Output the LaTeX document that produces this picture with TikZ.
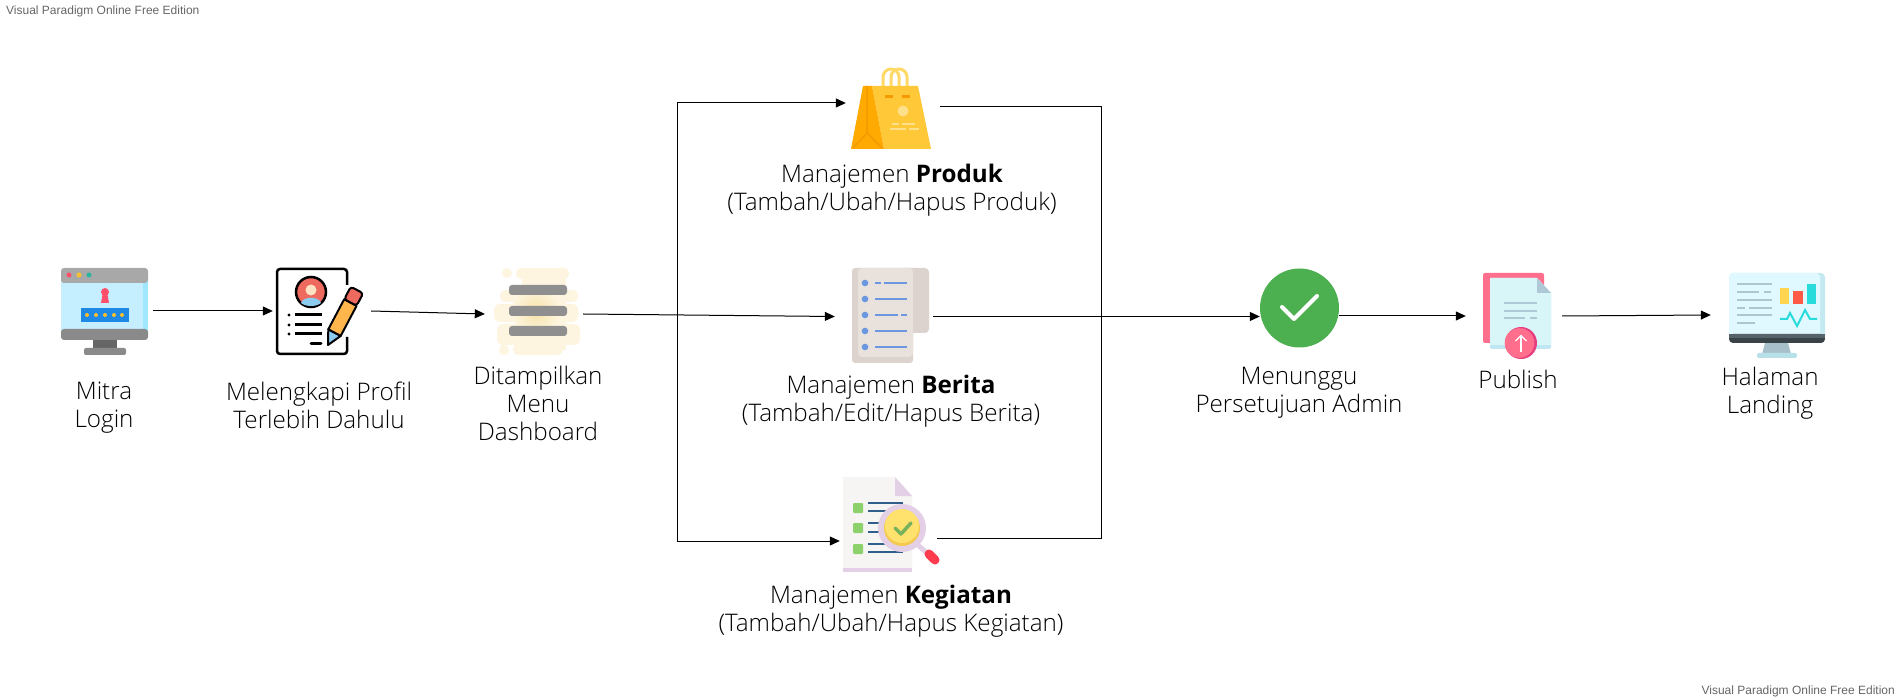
\documentclass[tikz,border=0pt]{standalone}
\usepackage{fontspec}
\setmainfont{Open Sans Light}[BoldFont={Open Sans Bold}]
\setsansfont{Liberation Sans}
\usetikzlibrary{arrows.meta}
\definecolor{lgrey}{HTML}{A8A8A8}
\definecolor{lscreen}{HTML}{C5EEFF}
\definecolor{lstrip}{HTML}{9FE6FF}
\definecolor{lbase}{HTML}{8A8A8A}
\definecolor{lneck}{HTML}{666666}
\definecolor{lred}{HTML}{FF4F6A}
\definecolor{lyellow}{HTML}{FFC030}
\definecolor{lteal}{HTML}{2BB5A0}
\definecolor{lblue}{HTML}{1E88E5}
\definecolor{pred}{HTML}{EE6A5F}
\definecolor{pskin}{HTML}{FFE2C4}
\definecolor{pshirt}{HTML}{8CCBF0}
\definecolor{porange}{HTML}{FFB74D}
\definecolor{dcream}{HTML}{FDF5DF}
\definecolor{dglow}{HTML}{F6E2A8}
\definecolor{dbar}{HTML}{8F8F8F}
\definecolor{bfront}{HTML}{FFC839}
\definecolor{bside}{HTML}{FFAA00}
\definecolor{bline}{HTML}{F59A00}
\definecolor{bhandle}{HTML}{FFD966}
\definecolor{bpale}{HTML}{FFE08A}
\definecolor{npaper}{HTML}{E9E1DC}
\definecolor{nedge}{HTML}{DCD3CE}
\definecolor{nblue}{HTML}{6B96E0}
\definecolor{kpaper}{HTML}{F6F5F4}
\definecolor{kmauve}{HTML}{E3CFE6}
\definecolor{kgreen}{HTML}{8DD16D}
\definecolor{kdark}{HTML}{2F5F8A}
\definecolor{kyellow}{HTML}{FFE26E}
\definecolor{kgold}{HTML}{F5C94F}
\definecolor{kred}{HTML}{FF3B4E}
\definecolor{okgreen}{HTML}{4CAF50}
\definecolor{upink}{HTML}{FF6F8D}
\definecolor{upaper}{HTML}{D8F6F8}
\definecolor{ufold}{HTML}{AEC8D6}
\definecolor{ustrip}{HTML}{BFE6F2}
\definecolor{umagenta}{HTML}{E63F80}
\definecolor{sscreen}{HTML}{E0F8FF}
\definecolor{sstrip}{HTML}{C5E9F0}
\definecolor{sdark}{HTML}{3A4347}
\definecolor{smid}{HTML}{56636A}
\definecolor{sneck}{HTML}{A8C0CA}
\definecolor{sbase}{HTML}{B8E0E8}
\definecolor{sline}{HTML}{B0C4CC}
\definecolor{syellow}{HTML}{FFD54F}
\definecolor{sred}{HTML}{FF5A45}
\definecolor{steal}{HTML}{2ADBDB}
\tikzset{
  iconbox/.style={inner sep=0pt,minimum height=80pt},
  flow/.style={draw=black,line width=1pt,-{Triangle[length=10pt,width=9pt]}},
  wire/.style={draw=black,line width=1pt},
  caption/.style={align=center,inner sep=0pt,text=black,font=\fontsize{24.2}{28}\selectfont},
  watermark/.style={font=\sffamily\fontsize{12}{14}\selectfont,text=black!60,inner sep=0pt}
}
\begin{document}
\begin{tikzpicture}[x=1pt,y=-1pt]
\useasboundingbox (0,0) rectangle (1900,700);
\fill[white] (0,0) rectangle (1900,700);
\node[watermark,anchor=west] (markatas) at (6,11) {Visual Paradigm Online Free Edition};
\node[watermark,anchor=east] (markbawah) at (1895,691) {Visual Paradigm Online Free Edition};

\node[iconbox,minimum width=98pt] (login) at (104,311) {};
\node[iconbox,minimum width=98pt] (profil) at (322,311) {};
\node[iconbox,minimum width=98pt] (dashboard) at (534,314) {};
\node[iconbox,minimum width=94pt] (produk) at (893,105) {};
\node[iconbox,minimum width=98pt] (berita) at (884,316.5) {};
\node[iconbox,minimum width=97pt] (kegiatan) at (888.5,540) {};
\node[circle,fill=okgreen,inner sep=0pt,minimum size=79pt] (cek) at (1299.5,308) {};
\node[iconbox,minimum width=96pt] (publish) at (1514,316) {};
\node[iconbox,minimum width=132pt] (landing) at (1777,315) {};
\coordinate (jkiri) at (677,314.5);
\coordinate (jkanan) at (1101.5,316.5);

\draw[flow] (login.east) -- (profil.west);
\draw[flow] (profil.east) -- (dashboard.west);
\draw[flow] (dashboard.east) -- (berita.west);
\draw[flow] (jkiri) |- ([yshift=2pt]produk.west);
\draw[flow] (jkiri) |- ([yshift=-1pt]kegiatan.west);
\draw[wire] ([yshift=-2pt]produk.east) -| (jkanan);
\draw[wire] (jkanan) |- ([yshift=2pt]kegiatan.east);
\draw[flow] (berita.east) -- (cek.west |- berita.east);
\draw[flow] (cek.east |- publish.west) -- (publish.west);
\draw[flow] (publish.east) -- (landing.west);

\fill[lscreen] (61,280) rectangle (148,332);
\fill[lstrip] (143,280) rectangle (148,332);
\fill[lgrey,rounded corners=3pt] (61,283) -- (61,268) -- (148,268) -- (148,283) -- cycle;
\fill[lbase,rounded corners=3pt] (61,329) -- (61,340) -- (148,340) -- (148,329) -- cycle;
\fill[lneck] (93,340) rectangle (117,348);
\fill[lbase,rounded corners=2pt] (84,355) -- (84,348) -- (126,348) -- (126,355) -- cycle;
\fill[lred] (69,275) circle (2.5);
\fill[lyellow] (79,275) circle (2.5);
\fill[lteal] (89,275) circle (2.5);
\fill[lred] (105,292) circle (4);
\fill[lred] (103,292) -- (107,292) -- (109,303) -- (101,303) -- cycle;
\fill[lblue] (81,308) rectangle (129,322);
\foreach \x in {87,96,105,114,122}
  \fill[lyellow] (\x,315) circle (2);

\draw[line width=2.5pt,rounded corners=3pt] (347,285) -- (347,269) -- (277,269) -- (277,354) -- (347,354) -- (347,337);
\draw[line width=2.5pt,fill=pred] (311,292) circle (15);
\fill[pskin] (311,290) circle (5.5);
\fill[pshirt] (301,303) .. controls (303,296) and (319,296) .. (321,303) .. controls (316,307) and (306,307) .. (301,303);
\foreach \y in {315,325,334} {
  \fill (289,\y) circle (1.7);
  \draw[line width=3pt] (295,\y) -- (322,\y);
}
\draw[line width=3pt,line cap=round] (311,344) -- (321,344);
\draw[line width=2pt,fill=pshirt,line join=round] (328,345) -- (328.3,329.3) -- (340.7,335.9) -- cycle;
\draw[line width=2pt,fill=porange,line join=round] (328.3,329.3) -- (344.2,299.2) -- (356.6,305.8) -- (340.7,335.9) -- cycle;
\draw[line width=2pt,fill=pred,rounded corners=3pt] (344.2,299.2) -- (350.8,286.7) -- (363.2,293.3) -- (356.6,305.8) -- cycle;

\fill[dcream] (507,273) circle (5);
\fill[dcream] (504,350) circle (5);
\fill[dcream,rounded corners=5pt] (516,268) rectangle (569,279);
\fill[dcream] (522,275) rectangle (566,350);
\fill[dcream,rounded corners=5pt] (500,290) rectangle (578,302);
\fill[dcream,rounded corners=6pt] (494,304) rectangle (578,322);
\fill[dcream,rounded corners=6pt] (497,324) rectangle (580,345);
\fill[dcream,rounded corners=5pt] (513,344) rectangle (563,355);
\shade[inner color=dglow,outer color=dcream] (536,311) circle (24);
\foreach \y in {290,311,331}
  \fill[dbar,rounded corners=3pt] (509,\y-5) rectangle (567,\y+5);

\draw[bhandle,line width=3pt,rounded corners=8pt] (883,95) -- (883,69) -- (899,69) -- (899,95);
\draw[bhandle,line width=3pt,rounded corners=8pt] (891,95) -- (891,69) -- (907,69) -- (907,95);
\fill[bfront] (872,86) -- (918,86) -- (931,149) -- (884,149) -- cycle;
\fill[bside] (863,86) -- (872,86) -- (884,149) -- (851,149) -- cycle;
\draw[bline,line width=1.5pt] (867,86) -- (867,133) -- (853,148);
\draw[bline,line width=1.5pt] (867,133) -- (882,148);
\fill[bline] (885,95) rectangle (893,98);
\fill[bline] (902,95) rectangle (910,98);
\fill[bpale] (903,111) circle (5.5);
\draw[bpale,line width=1.5pt] (892,124) -- (899,124);
\draw[bpale,line width=1.5pt] (902,124) -- (915,124);
\draw[bpale,line width=1.5pt] (890,129) -- (906,129);
\draw[bpale,line width=1.5pt] (909,129) -- (919,129);

\fill[nedge,rounded corners=4pt] (900,268) rectangle (929,333);
\fill[nedge,rounded corners=3pt] (852,268) rectangle (913,363);
\fill[npaper,rounded corners=4pt] (858,268) -- (913,268) -- (913,357) -- (858,357) -- cycle;
\foreach \y in {283,299,315,331,347}
  \fill[nblue] (865,\y) circle (3.3);
\draw[nblue,line width=2pt] (875,283) -- (881,283);
\draw[nblue,line width=2pt] (884,283) -- (907,283);
\draw[nblue,line width=2pt] (875,299) -- (907,299);
\draw[nblue,line width=2pt] (875,315) -- (898,315);
\draw[nblue,line width=2pt] (901,315) -- (907,315);
\draw[nblue,line width=2pt] (875,331) -- (907,331);
\draw[nblue,line width=2pt] (875,347) -- (907,347);

\fill[kpaper] (843,477) -- (895,477) -- (912,496) -- (912,572) -- (843,572) -- cycle;
\fill[kmauve] (843,568) rectangle (912,572);
\fill[kmauve] (895,477) -- (912,496) -- (895,496) -- cycle;
\foreach \y in {503,523,544}
  \fill[kgreen,rounded corners=1pt] (853,\y) rectangle (863,\y+10);
\foreach \y in {503,511,523,532,544,552}
  \draw[kdark,line width=2pt] (868,\y) -- (903,\y);
\draw[kmauve,line width=5pt] (918,545) -- (928,554);
\draw[kred,line width=9pt,line cap=round] (929,554) -- (935,560);
\fill[kmauve] (902,528) circle (24);
\fill[kgold] (902,528) circle (18);
\fill[kyellow] (902,526) circle (17);
\draw[kgreen!85!black,line width=3.5pt,line cap=round,line join=round] (895,528) -- (901,534) -- (911,523);

\draw[white,line width=4pt,line cap=round,line join=round] (1282,307) -- (1294,319) -- (1317,296);

\fill[upink,rounded corners=2pt] (1483,273) rectangle (1544,343);
\fill[ustrip,rounded corners=2pt] (1490,278) -- (1537,278) -- (1551,293) -- (1551,349) -- (1490,349) -- cycle;
\fill[upaper] (1490,278) -- (1537,278) -- (1551,293) -- (1551,345) -- (1490,345) -- cycle;
\fill[ufold] (1537,278) -- (1551,293) -- (1537,293) -- cycle;
\draw[ufold,line width=2pt] (1504,303) -- (1537,303);
\draw[ufold,line width=2pt] (1504,311) -- (1537,311);
\draw[ufold,line width=2pt] (1504,318) -- (1525,318);
\draw[ufold,line width=2pt] (1530,318) -- (1537,318);
\fill[umagenta] (1521,343) circle (16);
\fill[upink] (1519.5,343) circle (14.8);
\draw[white,line width=1.3pt] (1521,352) -- (1521,336);
\draw[white,line width=1.3pt] (1515.5,341) -- (1521,335.5) -- (1526.5,341);

\fill[sneck] (1765,343) -- (1788,343) -- (1791,354) -- (1762,354) -- cycle;
\fill[sbase,rounded corners=2pt] (1757,353) rectangle (1797,358);
\fill[sstrip,rounded corners=4pt] (1729,273) rectangle (1825,340);
\fill[sscreen,rounded corners=4pt] (1729,273) -- (1820,273) -- (1820,340) -- (1729,340) -- cycle;
\fill[sdark,rounded corners=4pt] (1729,334) -- (1825,334) -- (1825,343) -- (1729,343) -- cycle;
\fill[smid] (1729,334) rectangle (1825,338);
\draw[sline,line width=2.5pt] (1737,284) -- (1772,284);
\draw[sline,line width=2.5pt] (1737,292) -- (1759,292);
\draw[sline,line width=2.5pt] (1764,292) -- (1771,292);
\draw[sline,line width=2.5pt] (1737,300) -- (1772,300);
\draw[sline,line width=2.5pt] (1737,308) -- (1745,308);
\draw[sline,line width=2.5pt] (1749,308) -- (1772,308);
\draw[sline,line width=2.5pt] (1737,315) -- (1772,315);
\draw[sline,line width=2.5pt] (1737,323) -- (1755,323);
\fill[syellow] (1780,288) rectangle (1789,304);
\fill[sred] (1793,291) rectangle (1803,304);
\fill[steal] (1807,284) rectangle (1816,304);
\draw[steal,line width=2pt] (1780,319) -- (1787,319) -- (1790,313) -- (1797,326) -- (1805,310) -- (1810,319) -- (1817,319);

\node[caption] (tlogin) at (104,408) {Mitra\\Login};
\node[caption] (tprofil) at (319,405.5) {Melengkapi Profil\\Terlebih Dahulu};
\node[caption] (tdashboard) at (538,403.5) {Ditampilkan\\Menu\\Dashboard};
\node[caption] (tproduk) at (892,190.5) {Manajemen \textbf{Produk}\\(Tambah/Ubah/Hapus Produk)};
\node[caption] (tberita) at (891,401) {Manajemen \textbf{Berita}\\(Tambah/Edit/Hapus Berita)};
\node[caption] (tkegiatan) at (891,611) {Manajemen \textbf{Kegiatan}\\(Tambah/Ubah/Hapus Kegiatan)};
\node[caption] (tcek) at (1299,393) {Menunggu\\Persetujuan Admin};
\node[caption] (tpublish) at (1518,379.5) {Publish};
\node[caption] (tlanding) at (1770,393) {Halaman\\Landing};
\end{tikzpicture}
\end{document}
